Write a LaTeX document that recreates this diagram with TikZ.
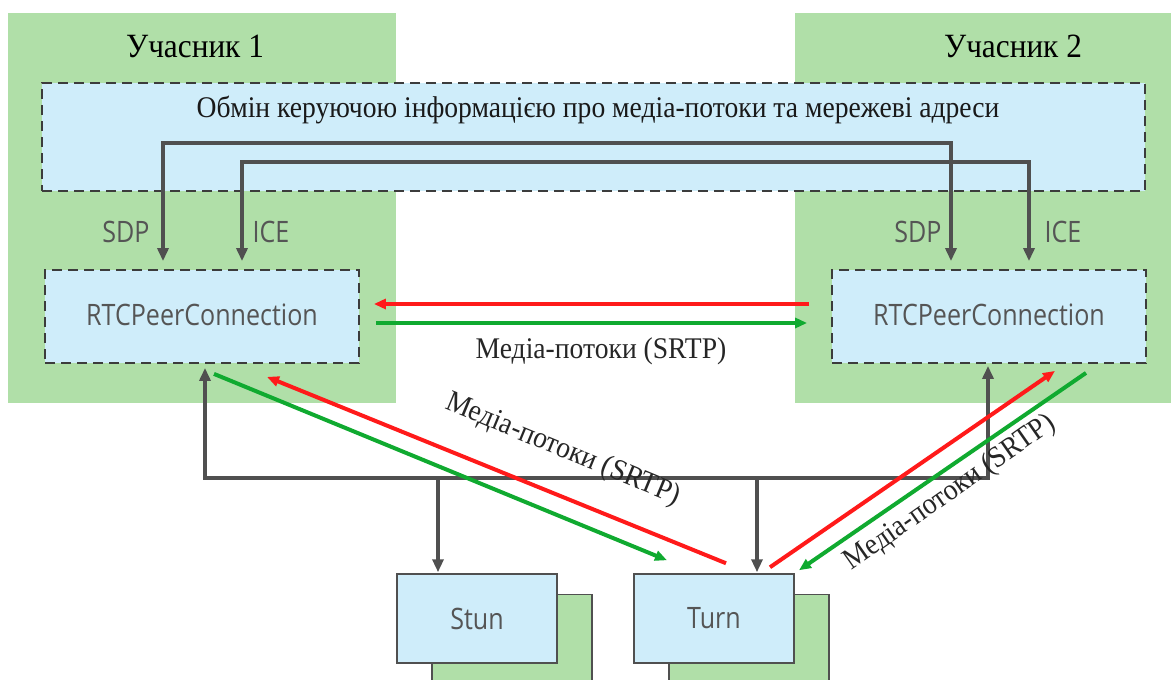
\documentclass[tikz,border=0pt]{standalone}
\usepackage{fontspec}
\setmainfont{Liberation Serif}[FakeStretch=0.92]
\newfontfamily\uisans{Open Sans}[FakeStretch=0.85]
\usetikzlibrary{arrows.meta}
\definecolor{pgreen}{HTML}{B0DFA8}
\definecolor{pblue}{HTML}{CFEDFA}
\definecolor{dgray}{HTML}{505050}
\definecolor{bgray}{HTML}{3C3C3C}
\definecolor{tgray}{HTML}{555555}
\definecolor{ared}{HTML}{FF1A1A}
\definecolor{agreen}{HTML}{10AA30}
\tikzset{
  pbox/.style={fill=pgreen, draw=none, inner sep=0pt},
  dbox/.style={fill=pblue, draw=bgray, line width=1.8pt, dash pattern=on 10pt off 6pt, inner sep=0pt},
  sbox/.style={fill=pblue, draw=dgray, line width=1.5pt, inner sep=0pt, minimum width=160pt, minimum height=89pt},
  shbox/.style={fill=pgreen, draw=dgray, line width=1.5pt, inner sep=0pt, minimum width=160pt, minimum height=89pt},
  title/.style={font=\fontsize{34}{40}\selectfont, text=black, inner sep=0pt},
  toptext/.style={font=\fontsize{30}{34}\selectfont, text=black!90, inner sep=0pt},
  mlabel/.style={font=\fontsize{30}{34}\selectfont, text=black!85, inner sep=0pt},
  sans/.style={font=\uisans\fontsize{29.5}{33}\selectfont, text=tgray, inner sep=0pt},
  gtip/.tip={Triangle[length=13pt,width=11pt]},
  ctip/.tip={Triangle[length=12pt,width=10pt]},
  garr/.style={draw=dgray, line width=4pt},
  rarr/.style={draw=ared, line width=4pt, -ctip},
  grarr/.style={draw=agreen, line width=4pt, -ctip},
}
\begin{document}
\begin{tikzpicture}[x=1pt,y=-1pt]
\useasboundingbox (0,0) rectangle (1171,680);
% participant areas
\node[pbox, minimum width=388pt, minimum height=390pt] (p1) at (202,208) {};
\node[pbox, minimum width=376pt, minimum height=390pt] (p2) at (983,208) {};
\node[title] (t1) at (195,46) {Учасник 1};
\node[title] (t2) at (1013,46) {Учасник 2};
% control exchange box
\node[dbox, minimum width=1103pt, minimum height=108pt] (ctl) at (593.5,137) {};
\node[toptext] (ctltext) at (598,110) {Обмін керуючою інформацією про медіа-потоки та мережеві адреси};
% peer connections
\node[dbox, minimum width=314pt, minimum height=93pt] (rtc1) at (202,316.5) {};
\node[sans] (rtc1t) at ([yshift=2pt]rtc1.center) {RTCPeerConnection};
\node[dbox, minimum width=314pt, minimum height=93pt] (rtc2) at (989,316.5) {};
\node[sans] (rtc2t) at ([yshift=2pt]rtc2.center) {RTCPeerConnection};
% servers
\node[shbox] (stunsh) at (512,639) {};
\node[sbox] (stun) at (477,618.5) {};
\node[sans] (stunt) at (stun) {Stun};
\node[shbox] (turnsh) at (749,639) {};
\node[sbox] (turn) at (714,618.5) {};
\node[sans] (turnt) at (turn) {Turn};
% SDP / ICE labels
\node[sans] (sdp1) at (126,232) {SDP};
\node[sans] (ice1) at (271,232) {ICE};
\node[sans] (sdp2) at (918,232) {SDP};
\node[sans] (ice2) at (1063,232) {ICE};
% signalling connectors
\coordinate (sdpTop) at (557,143);
\coordinate (iceTop) at (636,162);
\draw[garr, gtip-gtip] ([xshift=-39pt,yshift=8pt]rtc1.north) |- (sdpTop) -| ([xshift=-38pt,yshift=8pt]rtc2.north);
\draw[garr, gtip-gtip] ([xshift=40pt,yshift=8pt]rtc1.north) |- (iceTop) -| ([xshift=40pt,yshift=8pt]rtc2.north);
% bus to servers
\coordinate (bus) at (596,478);
\draw[garr, gtip-gtip] ([xshift=3pt,yshift=-4pt]rtc1.south) |- (bus) -| ([xshift=-1pt,yshift=-2pt]rtc2.south);
\coordinate (stunIn) at ([xshift=-39pt,yshift=1pt]stun.north);
\coordinate (turnIn) at ([xshift=43pt,yshift=1pt]turn.north);
\draw[garr, -gtip] (stunIn |- bus) -- (stunIn);
\draw[garr, -gtip] (turnIn |- bus) -- (turnIn);
% direct media
\draw[rarr] ([xshift=-22pt,yshift=12.5pt]rtc2.west) -- ([xshift=14pt,yshift=12.5pt]rtc1.east);
\draw[grarr] ([xshift=16pt,yshift=-6.5pt]rtc1.east) -- ([xshift=-24pt,yshift=-6.5pt]rtc2.west);
\node[mlabel] (m1) at (601,351) {Медіа-потоки (SRTP)};
% relayed media
\draw[rarr] ([xshift=12pt,yshift=10pt]turn.north) -- ([xshift=65pt,yshift=-13pt]rtc1.south);
\draw[grarr] ([xshift=12pt,yshift=-10pt]rtc1.south) -- ([xshift=-47pt,yshift=13pt]turn.north);
\draw[rarr] ([xshift=56pt,yshift=6pt]turn.north) -- ([xshift=66pt,yshift=-7pt]rtc2.south);
\draw[grarr] ([xshift=97pt,yshift=-9pt]rtc2.south) -- ([xshift=85pt,yshift=3pt]turn.north);
\node[mlabel, rotate=-22.5] (m2) at (563,450) {Медіа-потоки (SRTP)};
\node[mlabel, rotate=35] (m3) at (950,493) {Медіа-потоки (SRTP)};
\end{tikzpicture}
\end{document}
